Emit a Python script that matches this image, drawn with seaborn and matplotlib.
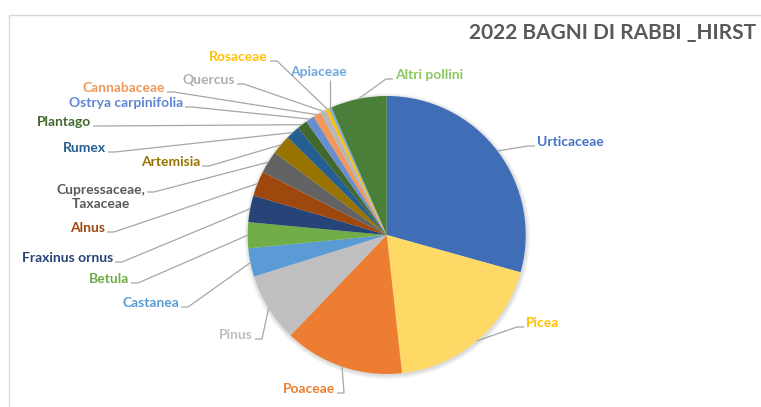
import numpy as np
import matplotlib
matplotlib.use("Agg")
import matplotlib.pyplot as plt
from matplotlib.patches import Circle
from matplotlib.lines import Line2D
import seaborn as sns

# Pollen share per taxon (%), clockwise from 12 o'clock
taxa = ["Urticaceae", "Picea", "Poaceae", "Pinus", "Castanea", "Betula",
        "Fraxinus ornus", "Alnus", "Cupressaceae,\nTaxaceae", "Artemisia",
        "Rumex", "Plantago", "Ostrya carpinifolia", "Cannabaceae", "Quercus",
        "Rosaceae", "Apiaceae", "Altri pollini"]
shares = [29.3, 18.9, 13.9, 8.0, 3.3, 3.0, 3.1, 2.9, 2.6, 2.3,
          1.6, 1.2, 1.0, 0.9, 0.7, 0.4, 0.3, 6.5]
slice_colors = ["#3F6DB6", "#FFD966", "#ED7D31", "#BFBFBF", "#5B9BD5", "#70AD47",
                "#264478", "#9E480E", "#636363", "#997300", "#255E91", "#43682B",
                "#698ED0", "#F1975A", "#B7B7B7", "#FFC000", "#7CAFDD", "#4A7F3A"]
label_colors = ["#4472C4", "#FFC000", "#ED7D31", "#BFBFBF", "#5B9BD5", "#70AD47",
                "#264478", "#9E480E", "#595959", "#997300", "#255E91", "#43682B",
                "#5B87D3", "#F1975A", "#AFAFAF", "#FFC000", "#6FA8DC", "#8CC860"]
title = "2022 BAGNI DI RABBI _HIRST"

W, H = 761, 407
CX, CY, R = 386.7, 235.0, 139.0   # pie centre / radius in pixels (y from top)

# label placement: (alignment, x of edge next to the leader, y centre), pixels from top-left
label_pos = [("left", 537, 142), ("left", 526, 323), ("right", 335, 389),
             ("right", 253, 335), ("right", 179, 303), ("right", 129, 279),
             ("right", 113, 258), ("right", 105, 228), ("right", 145, 197),
             ("right", 200, 162), ("right", 106, 148), ("right", 91, 122),
             ("right", 183, 103), ("right", 165, 88), ("right", 235, 80),
             ("right", 268, 57), ("center", 318.5, 72), ("left", 395, 75)]

sns.set_theme(style="white")
plt.rcParams["font.family"] = ["Lato", "DejaVu Sans"]

fig = plt.figure(figsize=(W / 100, H / 100), dpi=100)
fig.patch.set_facecolor("white")
ax = fig.add_axes([0, 0, 1, 1])


def fy(py):
    return H - py


# soft drop shadow under the pie
for i in range(7):
    ax.add_patch(Circle((CX + 0.6, fy(CY) - 1.2), R + 0.6 * (i + 1),
                        color="black", alpha=0.018, lw=0, zorder=0))

wedges, _ = ax.pie(shares, colors=slice_colors, startangle=90, counterclock=False,
                   radius=R, center=(CX, fy(CY)), wedgeprops=dict(linewidth=0))
ax.set_xlim(0, W)
ax.set_ylim(0, H)
ax.set_aspect("equal")
ax.axis("off")

FS = 10
line_kw = dict(color="#A6A6A6", lw=0.9, zorder=1, solid_capstyle="butt")
for w, name, col, (side, lx, ly) in zip(wedges, taxa, label_colors, label_pos):
    mid = np.deg2rad((w.theta1 + w.theta2) / 2)
    px = CX + R * np.cos(mid)
    py = fy(CY) + R * np.sin(mid)
    if side == "center":
        ax.text(lx, fy(ly), name, ha="center", va="center", color=col,
                fontsize=FS, fontweight="bold")
        ax.plot([px, px], [fy(ly + 8), py], **line_kw)
        continue
    ly_line = ly + 4 if "\n" not in name else ly - 5
    sgn = 1 if side == "right" else -1
    x0, x1 = lx + 2 * sgn, lx + 9 * sgn
    ax.plot([x0, x1, px], [fy(ly_line), fy(ly_line), py], **line_kw)
    ax.text(lx, fy(ly), name, ha=side, va="center", color=col, fontsize=FS,
            fontweight="bold", multialignment="center", linespacing=1.2)

ax.text(756, fy(33), title, ha="right", va="center", color="#595959",
        fontsize=15, fontweight="bold")

# chart-area border (top and left edges)
fig.add_artist(Line2D([8.5 / W, 1], [1 - 14.5 / H, 1 - 14.5 / H],
                      color="#D9D9D9", lw=1, transform=fig.transFigure))
fig.add_artist(Line2D([8.5 / W, 8.5 / W], [0, 1 - 14.5 / H],
                      color="#D9D9D9", lw=1, transform=fig.transFigure))

fig.savefig("out.png", dpi=100, facecolor="white")
